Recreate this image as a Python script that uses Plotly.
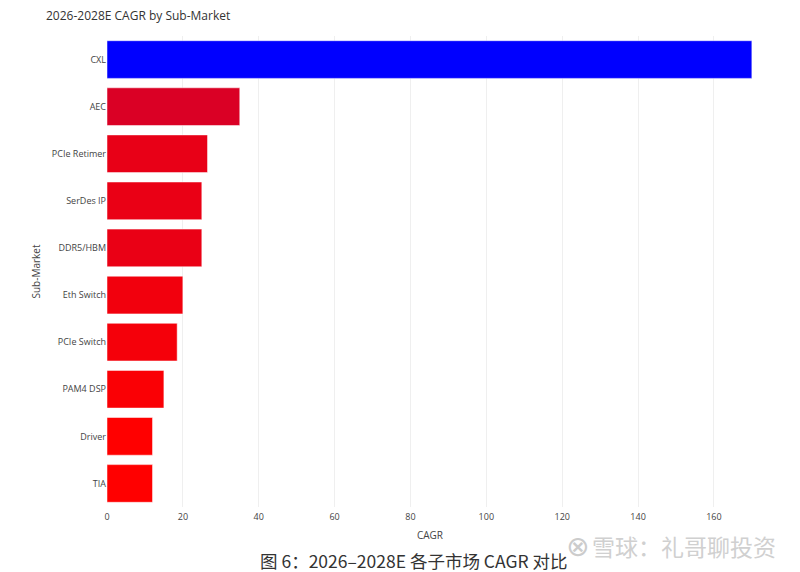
import plotly.graph_objects as go

# sub-markets, top to bottom
markets = ["CXL", "AEC", "PCIe Retimer", "SerDes IP", "DDR5/HBM",
           "Eth Switch", "PCIe Switch", "PAM4 DSP", "Driver", "TIA"]
cagr = [170, 35, 26.5, 25, 25, 20, 18.5, 15, 12, 12]

x_ticks = [0, 20, 40, 60, 80, 100, 120, 140, 160]

# plot area in figure pixels
L, R, T, B = 99, 745, 28, 499
W, H = 800, 572


def px(x):
    return (x - L) / (R - L)


def py(y):
    return (B - y) / (B - T)


fig = go.Figure()
fig.add_trace(go.Bar(
    x=cagr, y=markets, orientation="h",
    marker=dict(color=cagr, colorscale="Bluered_r", showscale=False),
    hovertemplate="%{y}: %{x}<extra></extra>",
))

fig.update_layout(
    template="plotly_white",
    width=W, height=H,
    margin=dict(l=L, r=W - R, t=T, b=H - B),
    title=dict(text="2026-2028E CAGR by Sub-Market", x=38 / W, y=1 - 8 / H,
               xanchor="left", yanchor="middle", font=dict(size=12, color="#333333")),
    font=dict(size=9, color="#444444"),
    bargap=0.2,
    showlegend=False,
)
fig.update_xaxes(title=dict(text="CAGR", font=dict(size=10), standoff=9),
                 range=[0, 170.3], tickvals=x_ticks, zeroline=False,
                 ticklabelstandoff=3, gridcolor="#efefef")
fig.update_yaxes(title=dict(text="Sub-Market", font=dict(size=10), standoff=9),
                 categoryorder="array", categoryarray=markets[::-1])

# caption and watermark from the source page
fig.add_annotation(text="图 6：2026–2028E 各子市场 CAGR 对比", xref="paper", yref="paper",
                   x=px(250), y=py(552), xanchor="left", yanchor="middle",
                   showarrow=False, font=dict(family="Noto Sans CJK SC", size=17.5, color="#333333"))
fig.add_annotation(text="⊗", xref="paper", yref="paper",
                   x=px(569), y=py(538), xanchor="center", yanchor="middle",
                   showarrow=False, font=dict(family="DejaVu Sans", size=28, color="#cccccc"))
fig.add_annotation(text="雪球：礼哥聊投资", xref="paper", yref="paper",
                   x=px(770), y=py(538), xanchor="right", yanchor="middle",
                   showarrow=False, font=dict(family="Noto Sans CJK SC", size=23, color="#d0d0d0"))

fig.write_html("out.html")
